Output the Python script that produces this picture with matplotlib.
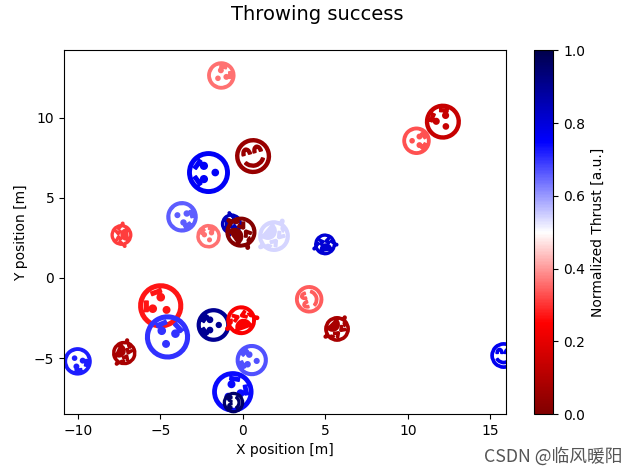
import matplotlib
matplotlib.use("Agg")
import matplotlib.pyplot as plt
import matplotlib.colors as colors
import numpy as np
from matplotlib.markers import MarkerStyle
from matplotlib.path import Path
from matplotlib.text import TextPath
from matplotlib.transforms import Affine2D


def centered(symbol):
    # text paths start at the origin, move the glyph onto it
    p = TextPath((0, 0), symbol)
    mid = (p.vertices.min(axis=0) + p.vertices.max(axis=0)) / 2
    return Path(p.vertices - mid, p.codes)


SYMBOLS = [centered("😭"), centered("😯"), centered("😊")]

# marker values
x_pos = [-1.4, 0.5, -2.1, -3.7, -7.4, -2.2, -0.7, -0.2, 1.9, 4.9, 10.5, 12.0,
         -5.1, -4.7, -1.8, -0.2, -7.2, -10.0, 0.5, -0.7, -0.6, 4.0, 5.7, 15.7]
y_pos = [12.7, 7.6, 6.5, 3.9, 2.7, 2.6, 3.4, 2.9, 2.7, 2.1, 8.7, 9.7,
         -1.8, -3.6, -3.0, -2.6, -4.6, -5.1, -5.2, -7.0, -7.8, -1.4, -3.1, -4.8]
skills = [3.5, 4.5, 5.4, 3.9, 3.1, 3.0, 3.0, 4.5, 4.6, 3.1, 3.5, 4.5,
          5.7, 5.7, 4.2, 4.3, 3.5, 3.5, 4.0, 5.2, 2.6, 3.5, 3.7, 3.3]
angles = [-50, 15, 90, -110, 95, 15, -90, -55, -130, 10, -90, 32,
          55, -12, 90, 20, -114, -137, 80, -45, 90, 105, -135, 0]
thrusts = [0.36, 0.05, 0.76, 0.66, 0.31, 0.36, 0.84, 0.01, 0.54, 0.81, 0.33, 0.14,
           0.27, 0.70, 0.90, 0.24, 0.08, 0.72, 0.67, 0.74, 0.96, 0.34, 0.08, 0.77]
moods = [1, 2, 1, 1, 0, 1, 0, 0, 0, 0, 1, 1,
         1, 1, 1, 0, 0, 1, 1, 1, 2, 2, 0, 2]

cmap = plt.colormaps["seismic_r"]

fig = plt.figure(figsize=(6.34, 4.75), dpi=100)
fig.suptitle("Throwing success", size=14, y=0.99)
ax = fig.add_axes([0.101, 0.128, 0.697, 0.766])
for x, y, s, a, th, m in zip(x_pos, y_pos, skills, angles, thrusts, moods):
    t = Affine2D().scale(s).rotate_deg(a)
    ax.plot(x, y, marker=MarkerStyle(SYMBOLS[m], transform=t), color=cmap(th), mew=1.3)
ax.set_xlim(-10.85, 15.95)
ax.set_ylim(-8.5, 14.2)
ax.set_xlabel("X position [m]")
ax.set_ylabel("Y position [m]")

cax = fig.add_axes([0.842, 0.128, 0.031, 0.766])
fig.colorbar(plt.cm.ScalarMappable(norm=colors.Normalize(0, 1), cmap=cmap),
             cax=cax, label="Normalized Thrust [a.u.]")
fig.text(0.982, 0.02, "CSDN @临风暖阳", ha="right", va="bottom", size=12.8, color="#555555",
         family=["Noto Sans CJK SC", "DejaVu Sans"])
fig.savefig("out.png", dpi=100)
